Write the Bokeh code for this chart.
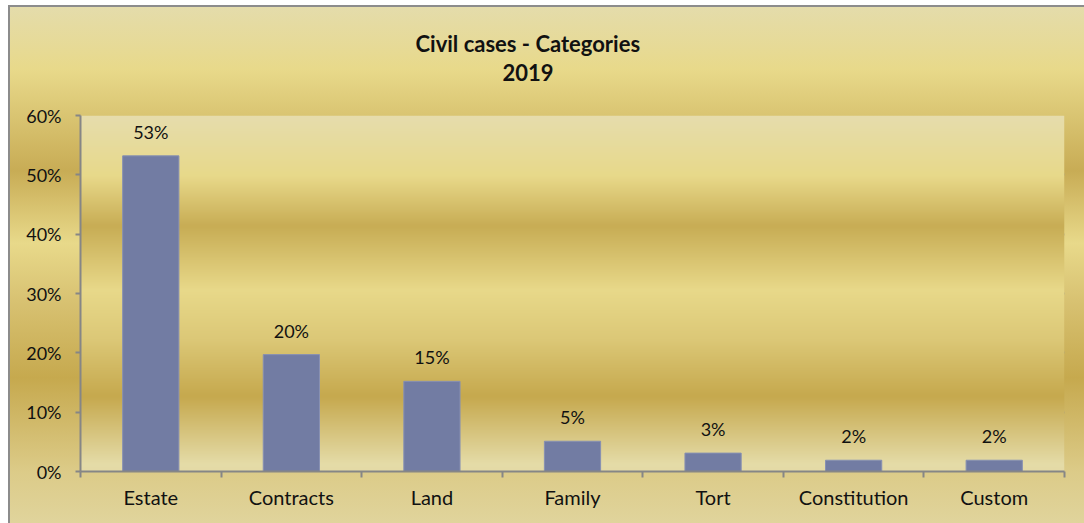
import numpy as np
from bokeh.plotting import figure
from bokeh.models import ColumnDataSource, FixedTicker, NumeralTickFormatter, Range1d, Title
from bokeh.embed import file_html
from bokeh.resources import INLINE
from bokeh.core.properties import value

# ---- data ----
categories = ["Estate", "Contracts", "Land", "Family", "Tort", "Constitution", "Custom"]
shares = [0.532, 0.197, 0.152, 0.051, 0.031, 0.019, 0.019]
share_labels = ["53%", "20%", "15%", "5%", "3%", "2%", "2%"]
y_ticks = [0.0, 0.1, 0.2, 0.3, 0.4, 0.5, 0.6]
title_lines = ["Civil cases - Categories", "2019"]

FONT = "Lato"
n = len(categories)
xpos = [i + 0.5 for i in range(n)]

src = ColumnDataSource(dict(x=xpos, top=shares, lab=share_labels, cat=categories))

p = figure(width=1084, height=523, output_backend="svg", toolbar_location=None,
           x_range=Range1d(0, n), y_range=Range1d(0, 0.6),
           min_border_left=80, min_border_right=20, min_border_top=115, min_border_bottom=52)
p.title = None
p.border_fill_color = None
p.background_fill_color = None
p.outline_line_color = None
grad = ("linear-gradient(to bottom, #E4DCAC 0%, #E8D98A 12.5%, #C8AC55 32%, #E8D98A 46%, "
        "#D8C272 57%, #C6A94E 72%, #DCCB88 90%, #E0D49C 100%)")
p.styles = {
    "background": ("linear-gradient(#8C8C8C,#8C8C8C) 8px 5px / calc(100% - 8px) 2px no-repeat, "
                   "linear-gradient(#8C8C8C,#8C8C8C) 8px 5px / 2px calc(100% - 5px) no-repeat, "
                   + grad + " 8px 5px / calc(100% - 8px) calc(100% - 5px) no-repeat, #FFFFFF"),
}

# frame gradient background (decorative)
N = 356
stops_f = [0.0, 0.02, 0.21, 0.37, 0.51, 0.69, 0.83, 1.0]
stops_c = ["#E4DAA6", "#E5DCA8", "#C6A94E", "#DCC877", "#E8D98A", "#C8AD55", "#E8D98A", "#E6DDAD"]
rgb = np.array([[int(c[i:i + 2], 16) for i in (1, 3, 5)] for c in stops_c], dtype=float)
f = np.linspace(0, 1, N)
img = np.empty((N, 1), dtype=np.uint32)
view = img.view(dtype=np.uint8).reshape((N, 1, 4))
for k in range(3):
    view[:, 0, k] = np.interp(f, stops_f, rgb[:, k]).astype(np.uint8)
view[:, 0, 3] = 255
p.image_rgba(image=[img], x=0, y=0, dw=n, dh=0.6)

# grid
p.xgrid.visible = False
p.ygrid.ticker = FixedTicker(ticks=y_ticks)
p.ygrid.grid_line_color = "#8C8C8C"
p.ygrid.grid_line_width = 2
p.ygrid.level = "image"

# bars
p.vbar(x="x", top="top", width=0.4, source=src, fill_color="#727CA3", line_color="#8790B3", line_width=1)
p.text(x="x", y="top", text="lab", source=src, text_align="center", text_baseline="bottom",
       y_offset=-13, text_font=value(FONT), text_font_size="18px", text_color="#111111")

# y axis
ya = p.yaxis[0]
ya.ticker = FixedTicker(ticks=y_ticks)
ya.formatter = NumeralTickFormatter(format="0%")
ya.axis_line_color = "#868686"
ya.axis_line_width = 2
ya.major_tick_line_color = "#868686"
ya.major_tick_line_width = 2
ya.major_tick_out = 5
ya.major_tick_in = 0
ya.minor_tick_line_color = None
ya.major_label_standoff = 14
ya.major_label_text_font = FONT
ya.major_label_text_font_size = "18px"
ya.major_label_text_color = "#111111"

# x axis
xa = p.xaxis[0]
xa.ticker = FixedTicker(ticks=xpos, minor_ticks=list(range(n + 1)))
xa.major_label_overrides = {x: c for x, c in zip(xpos, categories)}
xa.axis_line_color = "#868686"
xa.axis_line_width = 2
xa.major_tick_line_color = None
xa.major_tick_out = 0
xa.major_tick_in = 0
xa.minor_tick_line_color = "#868686"
xa.minor_tick_line_width = 2
xa.minor_tick_out = 6
xa.minor_tick_in = 0
xa.major_label_standoff = 7
xa.major_label_text_font = FONT
xa.major_label_text_font_size = "20px"
xa.major_label_text_color = "#111111"

# title: blank spacer nearest the frame, then the two lines
p.add_layout(Title(text=" ", text_font_size="10px", standoff=22), "above")
p.add_layout(Title(text=title_lines[1], align="left", offset=422, standoff=0,
                   text_font=FONT, text_font_style="bold", text_font_size="22px",
                   text_color="#111111"), "above")
p.add_layout(Title(text=title_lines[0], align="left", offset=335, standoff=10,
                   text_font=FONT, text_font_style="bold", text_font_size="22px",
                   text_color="#111111"), "above")

open("out.html", "w").write(file_html(p, INLINE))
